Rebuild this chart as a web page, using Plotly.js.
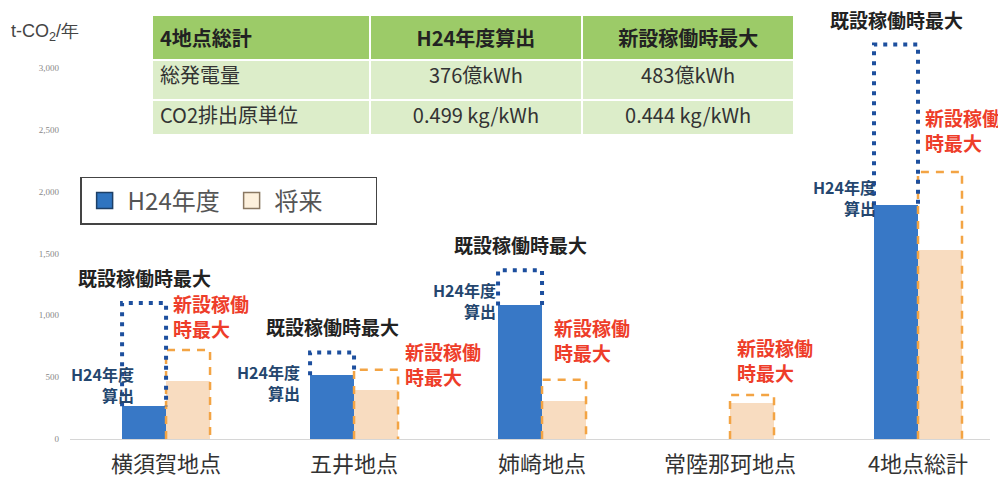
<!DOCTYPE html>
<html><head><meta charset="utf-8">
<script src="https://cdn.plot.ly/plotly-3.0.1.min.js"></script>
<style>html,body{margin:0;padding:0;background:#fff}</style>
</head><body><div id="chart" style="width:998px;height:479px"></div>
<script>
// ---- data ----
const categories = ['横須賀地点', '五井地点', '姉崎地点', '常陸那珂地点', '4地点総計'];
const h24Values = [265, 515, 1080, null, 1890];
const existingMaxValues = [1100, 700, 1365, null, 3190];
const futureValues = [470, 400, 310, 290, 1530];
const futureMaxValues = [720, 560, 480, 355, 2160];
const yTickValues = [0, 500, 1000, 1500, 2000, 2500, 3000];
const seriesNames = ['H24年度', '将来'];
const tableHeader = ['4地点総計', 'H24年度算出', '新設稼働時最大'];
const tableRowLabels = ['総発電量', 'CO2排出原単位'];
const tableH24 = ['376億kWh', '0.499 kg/kWh'];
const tableNew = ['483億kWh', '0.444 kg/kWh'];
const labelH24 = 'H24年度<br>算出';
const labelExisting = '既設稼働時最大';
const labelNew = '新設稼働<br>時最大';
const yTitle = 't-CO<sub>2</sub>/年';

// ---- layout helpers (positions / styles) ----
const off = 0.117, bw = 0.234;
const idx = categories.map((_, i) => i);
const xH = idx.map(i => i - off);
const xF = idx.map(i => i + off);
const h24LabelXShift = [14, -8, 0, 0, 4];
const h24LabelYShift = [22, -7, 5, 0, 8];
const newLabelSide = ['left', 'right', 'left', 'left', 'left'];
const newLabelXShift = [5, 5, 10, 5, 5];
const newLabelYShift = [6, 6, 12, 7, 14];
const CJK = '"Noto Sans CJK JP", "Noto Sans", sans-serif';

// outline paths built from the data
const dotX = [], dotY = [], dashX = [], dashY = [];
idx.forEach(i => {
  if (existingMaxValues[i] != null) {
    const l = xH[i] - bw / 2, r = xH[i] + bw / 2;
    const b = h24Values[i] || 0;
    dotX.push(l, l, r, r, null);
    dotY.push(b, existingMaxValues[i], existingMaxValues[i], b, null);
  }
  if (futureMaxValues[i] != null) {
    const l = xF[i] - bw / 2, r = xF[i] + bw / 2;
    dashX.push(l, l, r, r, null);
    dashY.push(0, futureMaxValues[i], futureMaxValues[i], 0, null);
  }
});

const traces = [
  { type: 'bar', name: seriesNames[0], x: xH, y: h24Values, width: bw, showlegend: false,
    marker: { color: '#3878c6', line: { width: 0 } } },
  { type: 'bar', name: seriesNames[1], x: xF, y: futureValues, width: bw, showlegend: false,
    marker: { color: '#f8dcc0', line: { width: 0 } } },
  { type: 'scatter', mode: 'lines', x: dashX, y: dashY, showlegend: false, hoverinfo: 'skip',
    line: { color: '#f3a444', width: 2.5, dash: '8px,7px' } },
  { type: 'scatter', mode: 'lines', x: dotX, y: dotY, showlegend: false, hoverinfo: 'skip',
    line: { color: '#1d4f9e', width: 4, dash: '4px,6px' } },
  // legend entries
  { type: 'scatter', mode: 'markers', name: seriesNames[0], x: [null], y: [null],
    marker: { symbol: 'square', size: 16, color: '#2f74c0', line: { color: '#1d3f66', width: 1.5 } } },
  { type: 'scatter', mode: 'markers', name: seriesNames[1], x: [null], y: [null],
    marker: { symbol: 'square', size: 16, color: '#fdf0dc', line: { color: '#8a7862', width: 1.5 } } },
  { type: 'table', domain: { x: [0.0891, 0.788], y: [0.712, 0.993] },
    columnwidth: [218, 213, 212],
    header: { values: tableHeader.map(t => '<b>' + t + '</b>'), height: 40,
      align: ['left', 'center', 'center'],
      fill: { color: '#9ccb68' }, line: { color: '#ffffff', width: 2 },
      font: { family: CJK, size: 20, color: '#222' } },
    cells: { values: [tableRowLabels, tableH24, tableNew], height: 40,
      align: ['left', 'center', 'center'],
      fill: { color: '#dcedc9' }, line: { color: '#ffffff', width: 2 },
      font: { family: CJK, size: 20, color: '#333' } } }
];

const annotations = [
  { xref: 'paper', yref: 'paper', x: -0.066, y: 0.953, xanchor: 'left', yanchor: 'middle',
    text: yTitle, showarrow: false, font: { family: 'Liberation Sans, Arial', size: 18, color: '#444' } }
];
idx.forEach(i => {
  if (existingMaxValues[i] != null) {
    annotations.push({ x: xH[i], y: existingMaxValues[i], xanchor: 'center', yanchor: 'bottom',
      yshift: 10, text: '<b>' + labelExisting + '</b>', showarrow: false,
      font: { family: CJK, size: 19, color: '#222' } });
  }
  if (h24Values[i] != null) {
    annotations.push({ x: xH[i] - bw / 2, y: h24Values[i], xanchor: 'right', yanchor: 'middle',
      xshift: h24LabelXShift[i], yshift: h24LabelYShift[i], align: 'right',
      text: '<b>' + labelH24 + '</b>', showarrow: false,
      font: { family: CJK, size: 16, color: '#24466e' } });
  }
  if (futureMaxValues[i] != null) {
    const right = newLabelSide[i] === 'right';
    annotations.push({ x: right ? xF[i] + bw / 2 : xF[i] - bw / 2, y: futureMaxValues[i],
      xanchor: 'left', yanchor: right ? 'middle' : 'bottom',
      xshift: newLabelXShift[i], yshift: newLabelYShift[i], align: 'left',
      text: '<b>' + labelNew + '</b>', showarrow: false,
      font: { family: CJK, size: 19, color: '#ee3d2a' } });
  }
});

const layout = {
  width: 998, height: 479,
  margin: { l: 70, r: 8, t: 12, b: 40 },
  paper_bgcolor: '#ffffff', plot_bgcolor: '#ffffff',
  barmode: 'overlay', bargap: 0,
  showlegend: true,
  legend: { x: 0.011, y: 0.614, xanchor: 'left', yanchor: 'top', orientation: 'h',
    bordercolor: '#444', borderwidth: 1.5, bgcolor: '#ffffff', itemsizing: 'trace',
    font: { family: CJK, size: 24, color: '#555' }, entrywidth: 96, itemwidth: 36,
    traceorder: 'normal' },
  xaxis: { range: [-0.511, 4.383], tickmode: 'array', tickvals: idx, ticktext: categories,
    showgrid: false, zeroline: false, showline: true, linecolor: '#d6d6d6', linewidth: 1,
    ticks: '', ticklabelstandoff: 6,
    tickfont: { family: CJK, size: 22, color: '#333' } },
  yaxis: { range: [0, 3453], tickmode: 'array', tickvals: yTickValues, tickformat: ',',
    showgrid: false, zeroline: false, showline: false, ticks: '', ticklabelstandoff: 10,
    tickfont: { family: 'Liberation Serif, serif', size: 9, color: '#888' } },
  annotations: annotations
};

Plotly.newPlot('chart', traces, layout, { displayModeBar: false, staticPlot: true });
</script>
</body></html>
